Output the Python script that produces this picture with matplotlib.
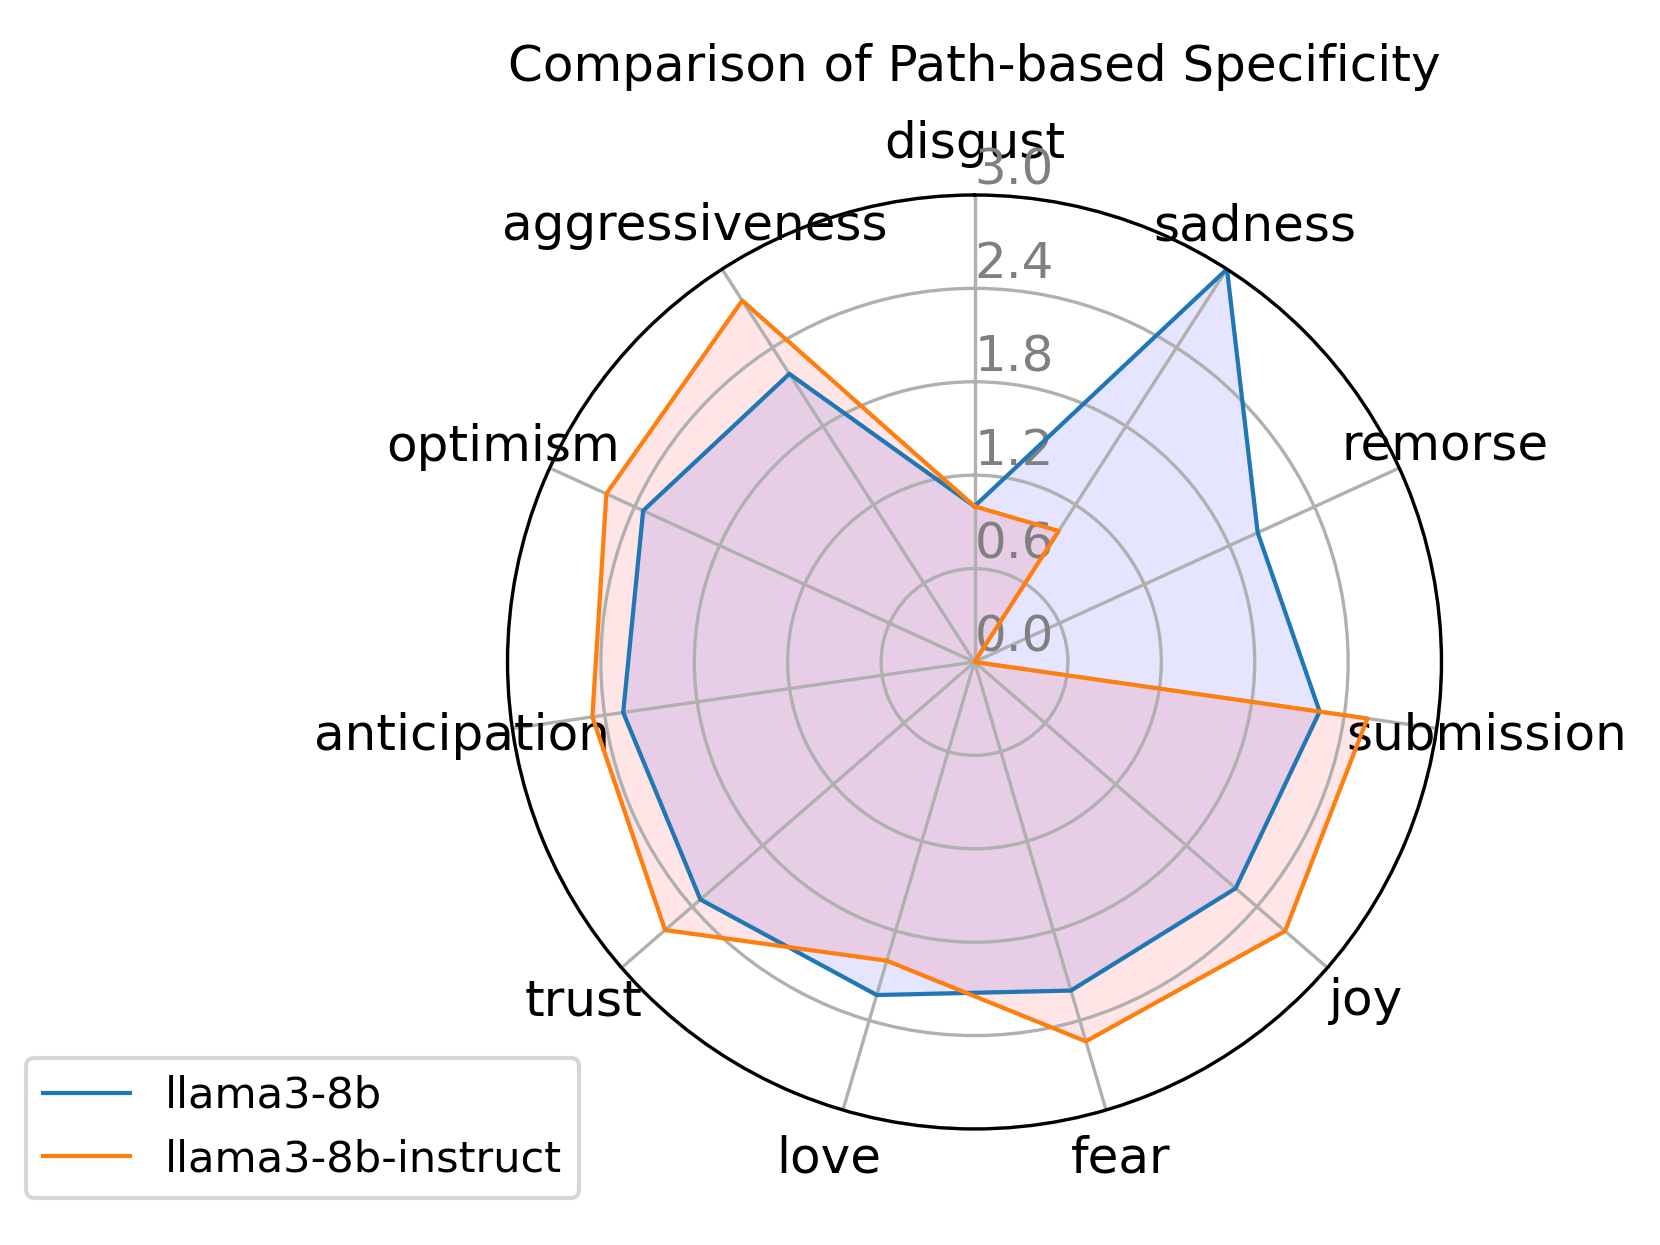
import numpy as np
import matplotlib
matplotlib.use('Agg')
import matplotlib.pyplot as plt

categories = ['disgust', 'sadness', 'remorse', 'submission', 'joy', 'fear',
              'love', 'trust', 'anticipation', 'optimism', 'aggressiveness']
llama3_8b = [1.0, 3.0, 2.0, 2.24, 2.22, 2.2, 2.23, 2.33, 2.28, 2.34, 2.2]
llama3_8b_instruct = [1.0, 1.0, 0.0, 2.55, 2.64, 2.54, 2.0, 2.63, 2.48, 2.6, 2.76]
r_ticks = [0.0, 0.6, 1.2, 1.8, 2.4, 3.0]

n = len(categories)
angles = np.linspace(0, 2 * np.pi, n, endpoint=False).tolist()
angles += angles[:1]

fig = plt.figure(figsize=(1660 / 300, 1245 / 300), dpi=300)
ax = fig.add_axes([0.3054, 0.0932, 0.5633, 0.7502], polar=True)
ax.set_theta_offset(np.pi / 2)
ax.set_theta_direction(-1)

v1 = llama3_8b + llama3_8b[:1]
v2 = llama3_8b_instruct + llama3_8b_instruct[:1]
ax.fill(angles, v1, color='blue', alpha=0.1)
ax.plot(angles, v1, color='C0', linewidth=1, label='llama3-8b')
ax.fill(angles, v2, color='red', alpha=0.1)
ax.plot(angles, v2, color='C1', linewidth=1, label='llama3-8b-instruct')

ax.set_xticks(angles[:-1])
ax.set_xticklabels(categories, fontsize=12)
ax.tick_params(axis='x', pad=1.7)
ax.set_rlabel_position(0)
ax.set_yticks(r_ticks)
ax.set_yticklabels([f'{t:.1f}' for t in r_ticks], color='grey', fontsize=12)
ax.set_ylim(0, 3.0)
ax.set_title('Comparison of Path-based Specificity', fontsize=12, y=1.122, pad=0)

fig.legend(loc='lower left', bbox_to_anchor=(0.0157, 0.0378), borderaxespad=0,
           fontsize=10.4)

plt.savefig('out.png', dpi=300)
